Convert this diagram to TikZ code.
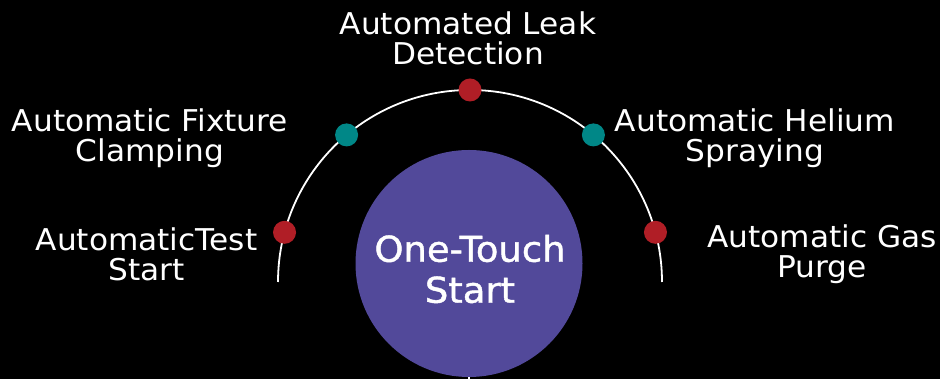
\documentclass[tikz,border=0pt]{standalone}
\usepackage{fontspec}
\setmainfont{DejaVu Sans}
\newfontfamily\labfont[FakeStretch=1.04]{DejaVu Sans}
\newfontfamily\hubfont[FakeBold=1.2,FakeStretch=1.04]{DejaVu Sans}
\usetikzlibrary{calc}
\definecolor{hubpurple}{RGB}{82,73,154}
\definecolor{dotred}{RGB}{176,30,38}
\definecolor{dotteal}{RGB}{0,135,135}
\tikzset{
  lab/.style={text=white, align=center, inner sep=0pt, font=\labfont\fontsize{30}{30}\selectfont},
  dotnode/.style={circle, minimum size=23pt, inner sep=0pt, draw=none},
  reddot/.style={dotnode, fill=dotred},
  tealdot/.style={dotnode, fill=dotteal},
  arcline/.style={draw=white, line width=1.8pt},
}
\begin{document}
\begin{tikzpicture}[x=1pt,y=1pt]
\fill[black] (0,0) rectangle (940,379);
\useasboundingbox (0,0) rectangle (940,379);
\coordinate (c) at (470,97);
\coordinate (arcstart) at (278,97);
\draw[arcline] (arcstart) arc[start angle=180, end angle=0, radius=192pt];
\node[circle, fill=hubpurple, minimum size=227pt, inner sep=0pt] (hub) at (469,115.5) {};
\node[text=white, align=center, inner sep=0pt, font=\hubfont\fontsize{35.5}{41}\selectfont] (hubtext) at (470,110) {One-Touch\\Start};
\coordinate (tail) at (469,-5);
\draw[white, line width=1.2pt] (hub.south) -- (tail);
\node[reddot] (d1) at ($(c)+(165:192pt)$) {};
\node[tealdot] (d2) at ($(c)+(130:192pt)$) {};
\node[reddot] (d3) at ($(c)+(90:192pt)$) {};
\node[tealdot] (d4) at ($(c)+(50:192pt)$) {};
\node[reddot] (d5) at ($(c)+(15:192pt)$) {};
\node[lab] (l1) at (146.5,125) {AutomaticTest\\Start};
\node[lab] (l2) at (150,241) {Automatic Fixture\\Clamping};
\node[lab] (l3) at (468,341) {Automated Leak\\Detection};
\node[lab] (l4) at (755,241) {Automatic Helium\\Spraying};
\node[lab] (l5) at (822,125) {Automatic Gas\\Purge};
\end{tikzpicture}
\end{document}
